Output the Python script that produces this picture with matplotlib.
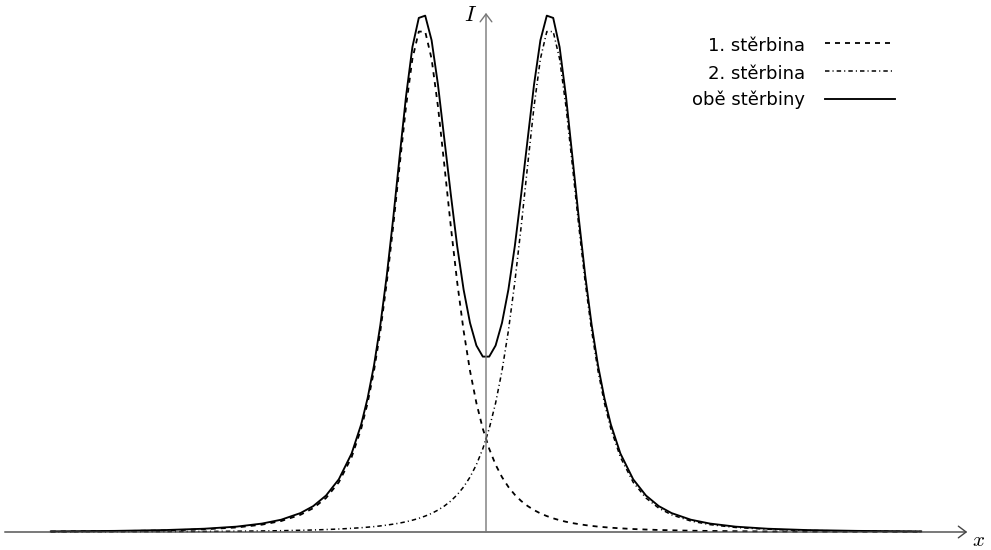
import matplotlib
matplotlib.use("Agg")
import matplotlib.pyplot as plt
from matplotlib.lines import Line2D

# sample positions (peaks of the two slits at -1 and +1)
X = [-6.8, -5.8, -5.0, -4.4, -3.9, -3.5, -3.2, -2.9, -2.7, -2.5, -2.3, -2.1,
     -1.95, -1.85, -1.75, -1.65, -1.55, -1.45, -1.35, -1.25, -1.15, -1.05,
     -0.95, -0.85, -0.75, -0.65, -0.55, -0.45, -0.35, -0.25, -0.15, -0.05,
     0.05, 0.15, 0.25, 0.35, 0.45, 0.55, 0.65, 0.75, 0.85, 0.95,
     1.05, 1.15, 1.25, 1.35, 1.45, 1.55, 1.65, 1.75, 1.85, 1.95,
     2.1, 2.3, 2.5, 2.7, 2.9, 3.2, 3.5, 3.9, 4.4, 5.0, 5.8, 6.8]

# intensity, 1st slit open
SLIT1 = [0.0009, 0.0017, 0.0031, 0.0054, 0.0090, 0.0146, 0.0218, 0.0341, 0.0473, 0.0674, 0.0986, 0.1484,
         0.2051, 0.2559, 0.3199, 0.3994, 0.4955, 0.6067, 0.7269, 0.8437, 0.9388, 0.9929,
         0.9929, 0.9388, 0.8437, 0.7269, 0.6067, 0.4955, 0.3994, 0.3199, 0.2559, 0.2051,
         0.1651, 0.1336, 0.1089, 0.0894, 0.0739, 0.0615, 0.0516, 0.0435, 0.0369, 0.0316,
         0.0271, 0.0234, 0.0203, 0.0177, 0.0156, 0.0137, 0.0121, 0.0107, 0.0096, 0.0085,
         0.0073, 0.0059, 0.0049, 0.0040, 0.0034, 0.0026, 0.0021, 0.0016, 0.0011, 0.0008, 0.0005, 0.0003]

# intensity, 2nd slit open
SLIT2 = [0.0003, 0.0005, 0.0008, 0.0011, 0.0016, 0.0021, 0.0026, 0.0034, 0.0040, 0.0049, 0.0059, 0.0073,
         0.0085, 0.0096, 0.0107, 0.0121, 0.0137, 0.0156, 0.0177, 0.0203, 0.0234, 0.0271,
         0.0316, 0.0369, 0.0435, 0.0516, 0.0615, 0.0739, 0.0894, 0.1089, 0.1336, 0.1651,
         0.2051, 0.2559, 0.3199, 0.3994, 0.4955, 0.6067, 0.7269, 0.8437, 0.9388, 0.9929,
         0.9929, 0.9388, 0.8437, 0.7269, 0.6067, 0.4955, 0.3994, 0.3199, 0.2559, 0.2051,
         0.1484, 0.0986, 0.0674, 0.0473, 0.0341, 0.0218, 0.0146, 0.0090, 0.0054, 0.0031, 0.0017, 0.0009]

# intensity, both slits open
BOTH = [0.0012, 0.0022, 0.0039, 0.0065, 0.0106, 0.0167, 0.0244, 0.0375, 0.0513, 0.0723, 0.1045, 0.1557,
        0.2136, 0.2655, 0.3306, 0.4115, 0.5092, 0.6223, 0.7446, 0.8640, 0.9622, 1.0200,
        1.0245, 0.9757, 0.8872, 0.7785, 0.6700, 0.5670, 0.4810, 0.4150, 0.3700, 0.3480,
        0.3480, 0.3700, 0.4150, 0.4810, 0.5670, 0.6700, 0.7785, 0.8872, 0.9757, 1.0245,
        1.0200, 0.9622, 0.8640, 0.7446, 0.6223, 0.5092, 0.4115, 0.3306, 0.2655, 0.2136,
        0.1557, 0.1045, 0.0723, 0.0513, 0.0375, 0.0244, 0.0167, 0.0106, 0.0065, 0.0039, 0.0022, 0.0012]

LABELS = ['1. stěrbina', '2. stěrbina', 'obě stěrbiny']

plt.rcParams['lines.scale_dashes'] = False
plt.rcParams['mathtext.fontset'] = 'cm'

fig = plt.figure(figsize=(9.91, 5.5), dpi=100)
ax = fig.add_axes([0, 0, 1, 1])
ax.set_xlim(-486 / 64, 505 / 64)
ax.set_ylim(-18 / 504, 532 / 504)
ax.axis('off')

DASHED = (3.6, 3.6)
DASHDOT = (3.2, 2.2, 0.8, 2.2)

# axes with arrows
ax.annotate('', xy=(7.52, 0), xytext=(-7.52, 0),
            arrowprops=dict(arrowstyle='->,head_length=0.4,head_width=0.3', lw=1.0,
                            color='#444444', mutation_scale=14, shrinkA=0, shrinkB=0))
ax.annotate('', xy=(0, 1.03), xytext=(0, 0),
            arrowprops=dict(arrowstyle='->,head_length=0.4,head_width=0.3', lw=1.0,
                            color='#777777', mutation_scale=14, shrinkA=0, shrinkB=0))
ax.text(-0.234, 1.026, '$I$', fontsize=16, ha='center', va='center')
ax.text(7.69, -0.028, '$x$', fontsize=15, ha='center', va='baseline')

ax.plot(X, SLIT1, color='black', lw=1.3, dashes=DASHED)
ax.plot(X, SLIT2, color='black', lw=1.1, dashes=DASHDOT)
ax.plot(X, BOTH, color='black', lw=1.35)

# legend drawn by hand: labels right aligned, samples on the right
styles = [dict(lw=1.3, dashes=DASHED), dict(lw=1.1, dashes=DASHDOT), dict(lw=1.35)]
baselines = [51, 79, 105]
lines_y = [43, 71, 99]
for lab, st, yb, yl in zip(LABELS, styles, baselines, lines_y):
    fig.text(805 / 991, 1 - yb / 550, lab, ha='right', va='baseline',
             fontsize=13, family='DejaVu Sans')
    fig.add_artist(Line2D([825 / 991, 895 / 991], [1 - yl / 550, 1 - yl / 550],
                          color='black', transform=fig.transFigure, **st))

fig.savefig('out.png', dpi=100)
